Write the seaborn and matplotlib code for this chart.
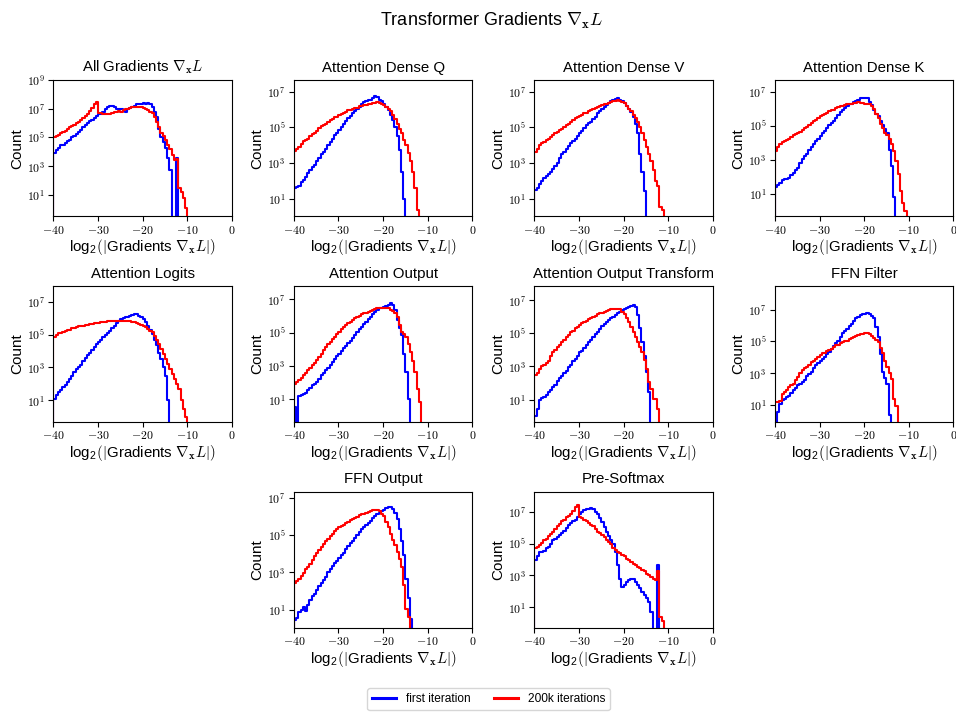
import numpy as np
import pandas as pd
import matplotlib
matplotlib.use("Agg")
import matplotlib.pyplot as plt
import seaborn as sns
from matplotlib.lines import Line2D
from matplotlib.ticker import FixedLocator, FuncFormatter, NullLocator

# log10 of the bin counts; bins are 0.5 wide and the first one starts at -40.
# None marks an empty bin.
BIN_START = -40.0
BIN_WIDTH = 0.5

all_first = [3.9, 4.1, 4.3, 4.45, 4.5, 4.6, 4.75, 4.85, 5.0, 5.1, 5.25, 5.4, 5.55, 5.7, 5.85, 6.0,
             6.15, 6.25, 6.35, 6.5, 6.6, 6.65, 6.8, 6.95, 7.1, 7.2, 7.2, 7.1, 7.0, 6.95, 6.95, 6.85,
             6.8, 6.95, 7.05, 7.15, 7.2, 7.3, 7.3, 7.35, 7.4, 7.35, 7.4, 7.3, 7.1, 6.8, 6.4, 5.6,
             5.0, 4.7, 4.3, 3.6, 2.7, None, None, 3.6]
all_200k = [5.0, 5.1, 5.2, 5.3, 5.4, 5.45, 5.6, 5.7, 5.8, 5.85, 6.0, 6.1, 6.2, 6.35, 6.5, 6.65,
            6.85, 7.05, 7.3, 7.45, 6.7, 6.7, 6.65, 6.65, 6.6, 6.65, 6.7, 6.75, 6.8, 6.85, 6.8, 6.9,
            6.95, 7.0, 7.05, 7.1, 7.1, 7.15, 7.15, 7.1, 7.05, 7.0, 6.9, 6.8, 6.7, 6.4, 6.1, 5.7,
            5.3, 5.1, 4.85, 4.5, 4.2, 3.8, 3.4, 3.5, 1.5, 1.2, 0.8, 0.1]

q_first = [1.6, 1.65, 1.7, 1.95, 2.05, 2.2, 2.45, 2.6, 2.75, 2.9, 3.1, 3.3, 3.5, 3.6, 3.8, 4.0,
           4.15, 4.35, 4.55, 4.7, 4.85, 5.0, 5.2, 5.35, 5.5, 5.65, 5.8, 5.9, 6.0, 6.15, 6.3, 6.4,
           6.45, 6.5, 6.55, 6.65, 6.75, 6.7, 6.55, 6.45, 6.3, 6.15, 5.95, 5.7, 5.4, 5.0, 4.5, 3.7,
           2.5, 1.0]
q_200k = [3.65, 3.75, 3.9, 4.05, 4.2, 4.3, 4.35, 4.5, 4.6, 4.7, 4.8, 4.95, 5.05, 5.1, 5.2, 5.3,
          5.4, 5.45, 5.55, 5.6, 5.7, 5.75, 5.8, 5.85, 5.95, 5.95, 6.0, 6.1, 6.1, 6.2, 6.2, 6.25,
          6.25, 6.3, 6.3, 6.35, 6.35, 6.4, 6.35, 6.3, 6.25, 6.15, 6.05, 5.9, 5.7, 5.45, 5.2, 4.9,
          4.65, 4.3, 4.0, 3.55, 3.1, 2.5, 1.6, 0.35]

v_first = [1.5, 1.6, 1.8, 2.0, 2.15, 2.25, 2.35, 2.5, 2.65, 2.8, 3.0, 3.3, 3.5, 3.6, 3.8, 3.95,
           4.1, 4.2, 4.35, 4.5, 4.65, 4.8, 4.95, 5.1, 5.25, 5.3, 5.45, 5.6, 5.8, 5.9, 6.0, 6.15,
           6.25, 6.35, 6.45, 6.5, 6.6, 6.65, 6.55, 6.45, 6.35, 6.2, 6.05, 5.85, 5.6, 5.2, 4.65, 3.5,
           2.5, 1.4]
v_200k = [3.6, 3.8, 4.0, 4.1, 4.15, 4.3, 4.35, 4.45, 4.55, 4.65, 4.75, 4.85, 4.9, 5.0, 5.1, 5.2,
          5.3, 5.4, 5.5, 5.55, 5.65, 5.7, 5.8, 5.8, 5.9, 5.95, 6.0, 6.1, 6.15, 6.2, 6.25, 6.3,
          6.3, 6.35, 6.4, 6.45, 6.45, 6.5, 6.45, 6.4, 6.35, 6.2, 6.05, 5.9, 5.7, 5.5, 5.3, 5.0,
          4.65, 4.3, 3.9, 3.5, 3.1, 2.6, 2.0, 1.7, 0.55, 0.35]

k_first = [1.4, 1.55, 1.65, 1.8, 1.85, 1.9, 1.95, 2.1, 2.25, 2.4, 2.55, 2.8, 3.05, 3.2, 3.35, 3.55,
           3.75, 3.9, 4.1, 4.25, 4.4, 4.55, 4.7, 4.85, 5.05, 5.15, 5.3, 5.45, 5.65, 5.8, 5.95, 6.05,
           6.15, 6.25, 6.3, 6.4, 6.45, 6.5, 6.6, 6.6, 6.65, 6.6, 6.4, 6.2, 5.95, 5.7, 5.55, 5.3,
           5.05, 4.8, 4.55, 3.55, 2.65, 0.85]
k_200k = [3.5, 3.75, 3.95, 4.05, 4.1, 4.15, 4.25, 4.35, 4.45, 4.5, 4.55, 4.65, 4.75, 4.85, 4.95, 5.05,
          5.15, 5.25, 5.35, 5.45, 5.55, 5.6, 5.7, 5.75, 5.85, 5.9, 5.95, 6.05, 6.1, 6.15, 6.15, 6.2,
          6.25, 6.3, 6.3, 6.35, 6.35, 6.4, 6.35, 6.35, 6.3, 6.3, 6.25, 6.15, 6.0, 5.7, 5.45, 5.1,
          4.85, 4.6, 4.45, 4.2, 3.95, 3.5, 2.95, 2.15, 1.15, 0.45, 0.0]

logits_first = [1.1, 1.3, 1.5, 1.6, 1.8, 1.95, 2.1, 2.3, 2.5, 2.7, 2.9, 3.0, 3.15, 3.4, 3.6, 3.75,
                3.9, 4.05, 4.25, 4.4, 4.55, 4.7, 4.85, 4.95, 5.1, 5.25, 5.4, 5.55, 5.7, 5.85, 5.95, 6.0,
                6.05, 6.1, 6.15, 6.2, 6.25, 6.25, 6.15, 6.05, 5.95, 5.75, 5.55, 5.3, 5.05, 4.7, 4.35, 3.9,
                3.5, 3.0, 2.5, 1.0]
logits_200k = [4.85, 5.0, 5.1, 5.1, 5.15, 5.25, 5.3, 5.3, 5.4, 5.4, 5.45, 5.5, 5.55, 5.55, 5.6, 5.6,
               5.65, 5.65, 5.7, 5.7, 5.7, 5.75, 5.75, 5.75, 5.8, 5.8, 5.8, 5.85, 5.85, 5.8, 5.85, 5.85,
               5.85, 5.8, 5.8, 5.75, 5.75, 5.7, 5.65, 5.6, 5.55, 5.45, 5.35, 5.25, 5.15, 4.9, 4.65, 4.4,
               4.1, 3.8, 3.5, 3.2, 2.9, 2.6, 2.3, 2.0, 1.7, 1.0, 0.5, 0.0]

attn_out_first = [0.55, None, 1.2, 1.25, 1.35, 1.4, 1.55, 1.7, 1.85, 1.95, 2.05, 2.25, 2.45, 2.6, 2.75, 2.9,
                  3.05, 3.25, 3.45, 3.6, 3.75, 3.9, 4.05, 4.2, 4.35, 4.5, 4.65, 4.85, 5.05, 5.2, 5.35, 5.5,
                  5.65, 5.8, 5.95, 6.1, 6.25, 6.35, 6.45, 6.5, 6.55, 6.6, 6.65, 6.75, 6.65, 6.35, 5.75, 5.3,
                  4.85, 3.75, 2.65, 1.05]
attn_out_200k = [1.9, 2.05, 2.15, 2.3, 2.45, 2.6, 2.75, 2.9, 3.05, 3.2, 3.35, 3.55, 3.75, 3.95, 4.15, 4.3,
                 4.45, 4.6, 4.75, 4.9, 5.05, 5.2, 5.35, 5.45, 5.55, 5.65, 5.75, 5.85, 5.95, 6.0, 6.1, 6.15,
                 6.2, 6.25, 6.3, 6.35, 6.4, 6.45, 6.5, 6.5, 6.5, 6.45, 6.45, 6.35, 6.3, 6.15, 5.95, 5.45,
                 5.05, 4.9, 4.75, 4.3, 3.85, 3.3, 2.65, 1.65, 0.85]

attn_tr_first = [0.0, 0.45, 0.95, 1.1, 1.15, 1.3, 1.45, 1.6, 1.75, 1.9, 2.1, 2.3, 2.45, 2.6, 2.75, 2.95,
                 3.1, 3.3, 3.45, 3.65, 3.85, 3.95, 4.1, 4.3, 4.45, 4.6, 4.8, 4.95, 5.1, 5.25, 5.45, 5.55,
                 5.7, 5.8, 5.95, 6.0, 6.1, 6.2, 6.3, 6.4, 6.5, 6.55, 6.6, 6.65, 6.7, 6.6, 6.1, 5.3,
                 4.45, 3.65, 2.65, 1.45]
attn_tr_200k = [2.5, 2.6, 2.85, 3.0, 3.1, 3.2, 3.35, 3.6, 3.85, 4.0, 4.15, 4.3, 4.45, 4.6, 4.8, 4.9,
                5.05, 5.15, 5.3, 5.4, 5.5, 5.6, 5.7, 5.75, 5.85, 5.95, 6.0, 6.05, 6.15, 6.2, 6.25, 6.3,
                6.35, 6.4, 6.45, 6.5, 6.5, 6.5, 6.45, 6.3, 6.15, 5.9, 5.7, 5.4, 5.1, 4.8, 4.5, 4.2,
                3.9, 3.4, 2.85, 2.05, 1.65, 1.05, 1.05, 0.45]

ffn_filter_first = [None, 0.55, 1.1, 1.3, 1.4, 1.5, 1.6, 1.75, 1.95, 2.1, 2.25, 2.35, 2.45, 2.6, 2.8, 2.95,
                    3.1, 3.3, 3.5, 3.65, 3.75, 3.9, 4.0, 4.2, 4.35, 4.5, 4.7, 4.9, 5.05, 5.3, 5.5, 5.65,
                    5.8, 5.95, 6.1, 6.3, 6.45, 6.55, 6.65, 6.7, 6.75, 6.8, 6.7, 6.6, 6.45, 5.9, 5.3, 4.2,
                    3.1, 2.7, 2.35, 0.35]
ffn_filter_200k = [1.2, 1.2, 1.25, 1.7, 1.8, 1.95, 2.15, 2.25, 2.35, 2.55, 2.75, 3.0, 3.2, 3.3, 3.4, 3.55,
                   3.7, 3.8, 3.9, 4.05, 4.15, 4.25, 4.3, 4.4, 4.45, 4.55, 4.65, 4.75, 4.8, 4.9, 4.95, 5.0,
                   5.05, 5.15, 5.2, 5.3, 5.35, 5.4, 5.45, 5.45, 5.5, 5.5, 5.45, 5.35, 5.2, 5.1, 4.95, 4.6,
                   4.25, 3.8, 3.4, 3.0, 2.65, 1.4, 0.95]

ffn_out_first = [0.45, 0.55, 0.85, 0.95, 1.15, 0.9, 1.25, 1.5, 1.7, 1.85, 2.05, 2.25, 2.4, 2.6, 2.75, 3.0,
                 3.2, 3.35, 3.5, 3.6, 3.75, 3.9, 4.05, 4.25, 4.4, 4.55, 4.7, 4.85, 5.0, 5.15, 5.3, 5.45,
                 5.55, 5.65, 5.75, 5.9, 6.0, 6.1, 6.2, 6.3, 6.35, 6.45, 6.5, 6.5, 6.4, 6.2, 5.85, 5.3,
                 4.65, 3.95, 2.65, 1.6, 0.5]
ffn_out_200k = [2.4, 2.55, 2.65, 2.8, 2.95, 3.15, 3.3, 3.45, 3.65, 3.85, 4.05, 4.2, 4.35, 4.5, 4.65, 4.8,
                4.95, 5.05, 5.2, 5.3, 5.4, 5.5, 5.55, 5.65, 5.7, 5.8, 5.85, 5.9, 5.95, 6.05, 6.1, 6.15,
                6.2, 6.25, 6.3, 6.35, 6.35, 6.35, 6.3, 6.15, 6.0, 5.7, 5.4, 5.05, 4.75, 4.45, 4.1, 3.7,
                3.3, 2.3, 1.05, 0.6]

presoftmax_first = [3.95, 4.2, 4.45, 4.5, 4.55, 4.7, 4.8, 5.0, 5.2, 5.3, 5.4, 5.55, 5.65, 5.8, 6.0, 6.15,
                    6.3, 6.4, 6.5, 6.65, 6.85, 7.0, 7.1, 7.15, 7.2, 7.25, 7.15, 7.0, 6.85, 6.6, 6.35, 6.05,
                    5.75, 5.5, 5.25, 4.95, 4.5, 3.65, 2.8, 2.3, 2.4, 2.6, 2.7, 2.75, 2.75, 2.6, 2.4, 2.2,
                    1.95, 1.75, 1.55, 1.3, 0.7, None, None, 3.65]
presoftmax_200k = [4.7, 4.8, 4.9, 5.05, 5.2, 5.3, 5.45, 5.6, 5.75, 5.9, 6.1, 6.25, 6.4, 6.5, 6.65, 6.75,
                   6.85, 7.05, 7.3, 7.42, 6.65, 6.6, 6.5, 6.4, 6.3, 6.2, 6.1, 5.95, 5.75, 5.65, 5.55, 5.4,
                   5.25, 5.1, 4.95, 4.75, 4.6, 4.5, 4.4, 4.3, 4.2, 4.05, 3.95, 3.85, 3.75, 3.65, 3.55, 3.45,
                   3.35, 3.25, 3.1, 3.0, 2.9, 2.8, 2.7, 3.3, 0.4, 0.1]

panel_titles = [r"All Gradients $\nabla_{\mathbf{x}}L$", "Attention Dense Q", "Attention Dense V",
                "Attention Dense K", "Attention Logits", "Attention Output",
                "Attention Output Transform", "FFN Filter", "FFN Output", "Pre-Softmax"]
panel_first = [all_first, q_first, v_first, k_first, logits_first, attn_out_first,
               attn_tr_first, ffn_filter_first, ffn_out_first, presoftmax_first]
panel_200k = [all_200k, q_200k, v_200k, k_200k, logits_200k, attn_out_200k,
              attn_tr_200k, ffn_filter_200k, ffn_out_200k, presoftmax_200k]
# y range of each panel, as log10 of the count
panel_ylog = [(-0.49, 9.0), (0.0, 7.65), (0.0, 7.65), (-0.31, 7.68), (-0.33, 7.97),
              (-0.36, 7.8), (-0.37, 7.87), (-0.07, 8.49), (0.01, 7.32), (-0.31, 8.27)]
panel_slots = [(0, 0), (0, 1), (0, 2), (0, 3), (1, 0), (1, 1), (1, 2), (1, 3), (2, 1), (2, 2)]
series_names = ["first iteration", "200k iterations"]
series_colors = ["blue", "red"]

plt.rcParams["font.family"] = ["Liberation Sans", "DejaVu Sans"]
plt.rcParams["mathtext.fontset"] = "cm"

XLABEL = r"log$_{\mathdefault{2}}$$(|$Gradients $\nabla_{\mathbf{x}}L|)$"


def hist_frame(log_counts):
    """Bin centres and counts, padded with an empty bin on each side, plus the bin edges."""
    counts = [0.0] + [0.0 if v is None else 10.0 ** v for v in log_counts] + [0.0]
    n = len(counts)
    edges = BIN_START - BIN_WIDTH + BIN_WIDTH * np.arange(n + 1)
    frame = pd.DataFrame({"centre": edges[:-1] + BIN_WIDTH / 2, "count": counts})
    return frame, [float(e) for e in edges]


fig, axes = plt.subplots(3, 4, figsize=(9.56, 7.13), dpi=100)
fig.subplots_adjust(left=0.0558, right=0.9973, top=0.8878, bottom=0.1192,
                    wspace=0.347, hspace=0.51)
axes[2, 0].axis("off")
axes[2, 3].axis("off")

xfmt = FuncFormatter(lambda v, p: f"${v:.0f}$")
yfmt = FuncFormatter(lambda v, p: f"$10^{{{int(round(np.log10(v)))}}}$")

for title, first, late, ylog, (r, c) in zip(panel_titles, panel_first, panel_200k,
                                             panel_ylog, panel_slots):
    ax = axes[r, c]
    for vals, name, col in zip([first, late], series_names, series_colors):
        frame, edges = hist_frame(vals)
        sns.histplot(data=frame, x="centre", weights="count", bins=edges, element="step",
                     fill=False, color=col, linewidth=1.5, label=name, ax=ax)
    ax.set_yscale("log")
    ax.set_xlim(-40, 0)
    ax.set_ylim(10 ** ylog[0], 10 ** ylog[1])
    ax.xaxis.set_major_locator(FixedLocator([-40, -30, -20, -10, 0]))
    ax.xaxis.set_major_formatter(xfmt)
    exps = [e for e in (1, 3, 5, 7, 9) if ylog[0] <= e <= ylog[1] + 1e-6]
    ax.yaxis.set_major_locator(FixedLocator([10.0 ** e for e in exps]))
    ax.yaxis.set_major_formatter(yfmt)
    ax.yaxis.set_minor_locator(NullLocator())
    ax.tick_params(labelsize=8.5, pad=2.5)
    ax.set_title(title, fontsize=10.8)
    ax.set_ylabel("Count", fontsize=11, labelpad=2)
    ax.set_xlabel(XLABEL, fontsize=10.8, labelpad=0.5)

fig.suptitle(r"Transformer Gradients $\nabla_{\mathbf{x}}L$", fontsize=13, x=0.514, y=0.985)
handles = [Line2D([], [], color=col, linewidth=2.2) for col in series_colors]
fig.legend(handles, series_names, loc="lower center", ncol=2, fontsize=8.6,
           bbox_to_anchor=(0.511, 0.0), borderaxespad=0.25, frameon=True)

fig.savefig("out.png", dpi=100)
